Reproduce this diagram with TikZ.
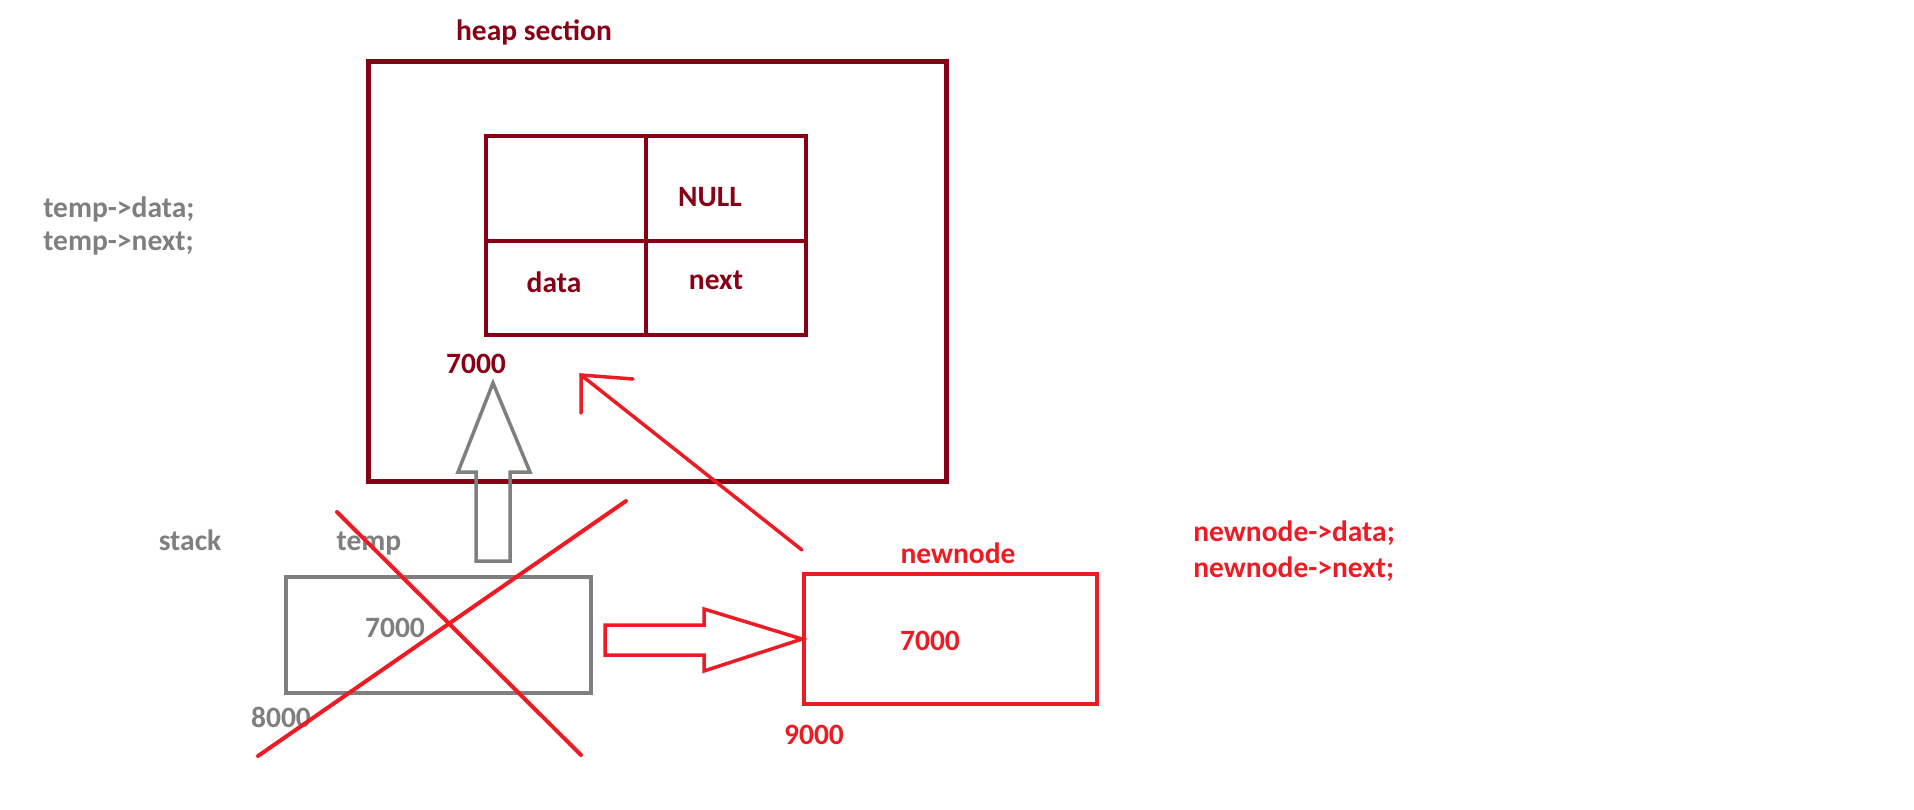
\documentclass[tikz,border=0pt]{standalone}
\usepackage{fontspec}
\setmainfont{Carlito}
\usepackage{tikz}
\usepackage{xcolor}
\usetikzlibrary{calc}
\definecolor{heapred}{RGB}{136,0,21}
\definecolor{markred}{RGB}{237,28,36}
\definecolor{stackgray}{RGB}{127,127,127}

\begin{document}
\begin{tikzpicture}[
  x=0.02cm, y=-0.02cm,
  lbl/.style={font=\fontsize{16.8}{20}\selectfont\bfseries, inner sep=0pt},
  box/.style={draw, line width=0.08cm, inner sep=0pt},
  cell/.style={draw=heapred, line width=0.08cm, minimum width=3.2cm, inner sep=0pt},
  hollow/.style={line width=0.07cm, line join=miter},
  cross/.style={draw=markred, line width=0.08cm, line cap=round}
]
\useasboundingbox (0,0) rectangle (1914,809);

\node[box, draw=heapred, line width=0.1cm, minimum width=11.58cm, minimum height=8.42cm] (heap) at (657.5,271.5) {};
\node[lbl, text=heapred] (heaplbl) at (534,32) {heap section};

\node[cell, minimum height=2.1cm] (c1) at (566,188.5) {};
\node[cell, minimum height=2.1cm] (c2) at (726,188.5) {};
\node[cell, minimum height=1.88cm] (c3) at (566,288) {};
\node[cell, minimum height=1.88cm] (c4) at (726,288) {};
\node[lbl, text=heapred] (nulllbl) at (710,197) {NULL};
\node[lbl, text=heapred] (datalbl) at (554,282) {data};
\node[lbl, text=heapred] (nextlbl) at (716,280) {next};
\node[lbl, text=heapred] (addr) at (476,364) {7000};

\node[lbl, text=stackgray, anchor=west] (tdata) at (43,209) {temp->data;};
\node[lbl, text=stackgray, anchor=west] (tnext) at (43,244) {temp->next;};
\node[lbl, text=stackgray] (stacklbl) at (190,540) {stack};
\node[lbl, text=stackgray] (templbl) at (369,543) {temp};
\node[box, draw=stackgray, minimum width=6.1cm, minimum height=2.32cm] (tempbox) at (438.5,635) {};
\node[lbl, text=stackgray] (tempval) at (395,628) {7000};
\node[lbl, text=stackgray] (tempaddr) at (281,717) {8000};

\node[lbl, text=markred] (newlbl) at (958,553) {newnode};
\node[box, draw=markred, minimum width=5.86cm, minimum height=2.6cm] (newbox) at (950.5,639) {};
\node[lbl, text=markred] (newval) at (930,641) {7000};
\node[lbl, text=markred] (newaddr) at (814,735) {9000};
\node[lbl, text=markred, anchor=west] (ndata) at (1193,533) {newnode->data;};
\node[lbl, text=markred, anchor=west] (nnext) at (1193,569) {newnode->next;};

\coordinate (gtip) at (493,383);
\draw[hollow, draw=stackgray] (476,561) -- (476,472) -- (458,472) -- (gtip) -- (530,472) -- (510,472) -- (510,561) -- cycle;

\draw[hollow, draw=markred] (605,625) -- (704,625) -- (704,609) -- (newbox.west) -- (704,671) -- (704,655) -- (605,655) -- cycle;

\draw[cross] (337,512) -- (581,755);
\draw[cross] (626,501) -- (258,756);

\coordinate (rstart) at (802,550);
\coordinate (rtip) at (581,375);
\draw[cross, line width=0.07cm] (rstart) -- (rtip);
\draw[cross, line width=0.07cm] (633,379) -- (rtip) -- (581,413);
\end{tikzpicture}
\end{document}
